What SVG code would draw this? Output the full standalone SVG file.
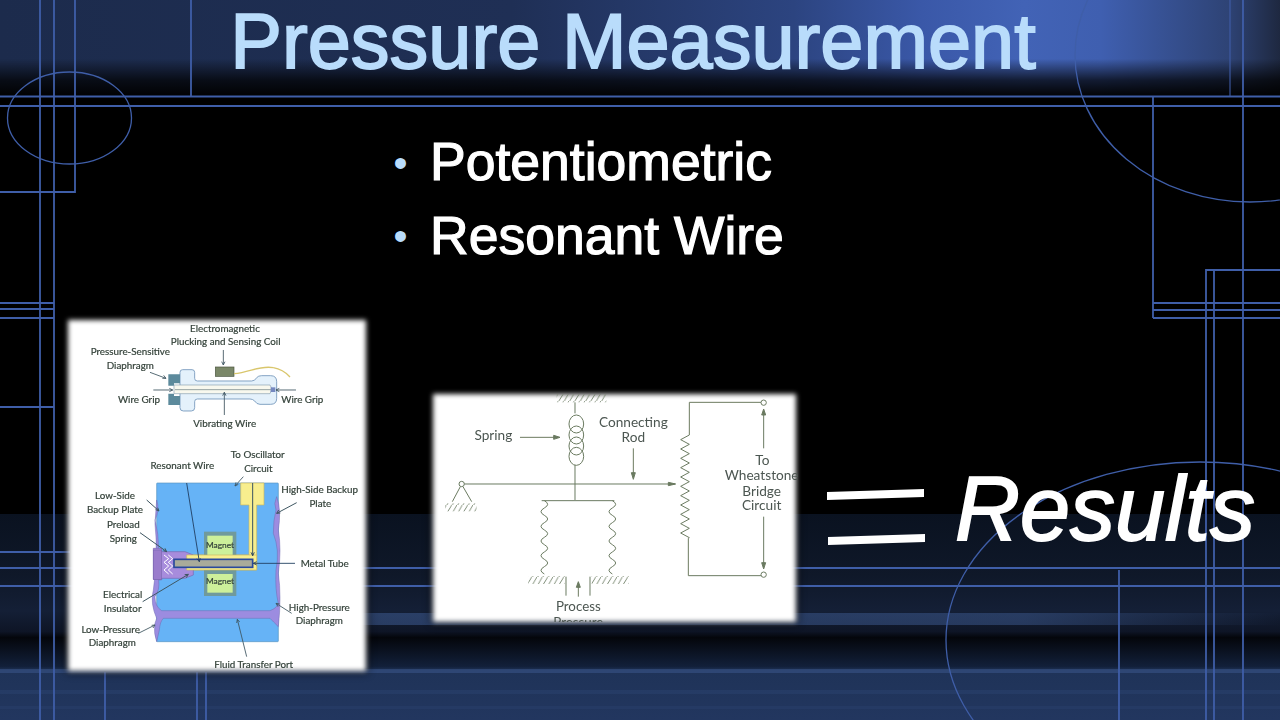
<svg xmlns="http://www.w3.org/2000/svg" width="1280" height="720" viewBox="0 0 1280 720">
<style>
.g{stroke:#3f5ea8;stroke-width:1.8;fill:none}
.thin{stroke:#3f5ea8;stroke-width:1.3;fill:none}
.sans{font-family:"Liberation Sans",Arial,sans-serif}
.l{font-family:Lato,"Noto Sans",sans-serif;fill:#34423a;text-anchor:middle;font-size:29.500px;stroke:#34423a;stroke-width:.6}
.k{fill:none;stroke:#3d5560;stroke-width:2.600}
.d{fill:none;stroke:#6a7a60;stroke-width:3}
.dt{font-family:Lato,"Noto Sans",sans-serif;fill:#4c5651;text-anchor:middle;font-size:41px}
</style>
<defs>
<linearGradient id="top" x1="0" x2="1" y1="0" y2="0">
<stop offset="0" stop-color="#1c2b4c"/><stop offset=".4" stop-color="#1f2f55"/><stop offset=".62" stop-color="#2c4480"/><stop offset=".72" stop-color="#3a58a8"/><stop offset=".8" stop-color="#4263b6"/><stop offset=".86" stop-color="#3f5fb0"/><stop offset=".96" stop-color="#2e4375"/><stop offset="1" stop-color="#1e2840"/>
</linearGradient>
<linearGradient id="fade" x1="0" x2="0" y1="0" y2="1">
<stop offset="0" stop-color="#000" stop-opacity="0"/><stop offset=".6" stop-color="#000" stop-opacity="0"/><stop offset=".82" stop-color="#000" stop-opacity=".72"/><stop offset="1" stop-color="#000" stop-opacity="1"/>
</linearGradient>
<linearGradient id="bot" x1="0" x2="0" y1="0" y2="1">
<stop offset="0" stop-color="#0a1220"/><stop offset=".3" stop-color="#0f1829"/><stop offset=".47" stop-color="#141f36"/><stop offset=".57" stop-color="#0e1526"/><stop offset=".6" stop-color="#04060b"/><stop offset=".74" stop-color="#12203a"/><stop offset=".76" stop-color="#1f3358"/><stop offset="1" stop-color="#22365f"/>
</linearGradient>
<linearGradient id="st" x1="0" x2="1" y1="0" y2="0">
<stop offset="0" stop-color="#3d5a90" stop-opacity="0"/><stop offset=".1" stop-color="#3d5a90" stop-opacity="0"/><stop offset=".3" stop-color="#3d5a90" stop-opacity=".55"/><stop offset=".8" stop-color="#3d5a90" stop-opacity=".5"/><stop offset="1" stop-color="#3d5a90" stop-opacity="0"/>
</linearGradient>
<pattern id="hatch" width="16" height="24" patternUnits="userSpaceOnUse"><path d="M16 0L2 24" stroke="#6a7a60" stroke-width="2.600" fill="none"/></pattern>
<filter id="b1" x="-10%" y="-10%" width="120%" height="120%"><feGaussianBlur stdDeviation="2.6"/></filter>
<filter id="b2" x="-10%" y="-10%" width="120%" height="120%"><feGaussianBlur stdDeviation="4"/></filter>
<filter id="soft" x="-5%" y="-5%" width="110%" height="110%"><feGaussianBlur stdDeviation="1.700"/></filter>
<clipPath id="clipR"><rect x="0" y="0" width="1140" height="711"/></clipPath>
</defs>

<g id="background">
<rect width="1280" height="720" fill="#000"/>
<rect width="1280" height="98" fill="url(#top)"/>
<rect width="1280" height="98" fill="url(#fade)"/>
<rect y="514" width="1280" height="206" fill="url(#bot)"/>
<rect y="613" width="1280" height="12" fill="url(#st)"/>
<rect y="669" width="1280" height="4" fill="#3d5a90" opacity=".5"/>
<rect y="690" width="1280" height="4" fill="#3d5a90" opacity=".2"/>
<rect y="706" width="1280" height="3" fill="#3d5a90" opacity=".15"/>
<g class="g">
<path d="M0 96.500H1280M0 106H1280"/>
<path d="M40 0V720M54 0V720M75 0V192H0M191 0V96"/>
<path d="M1153 96V318M1243 0V720"/>
<path d="M1230 0V96" opacity=".6"/>
<path d="M1153 303H1280M1153 310H1280M1153 318H1280"/>
<path d="M1280 270H1206V720M1214 270V720"/>
<path d="M0 568H1280M0 586H1280M0 552H70M1119 570V720"/>
<path d="M0 303H54M0 309H54M0 318H54M0 407H54"/>
<path d="M105 672V720M197 672V720M206 672V720"/>
</g>
<g class="thin">
<ellipse cx="69.500" cy="118" rx="62" ry="46"/>
<ellipse cx="1250" cy="55" rx="175" ry="147"/>
<ellipse cx="1200" cy="640" rx="254" ry="178"/>
</g>
</g>

<g id="title"><text x="633" y="67.500" text-anchor="middle" font-size="77.500" class="sans" fill="#b9dcfb" stroke="#b9dcfb" stroke-width="1.800">Pressure Measurement</text></g>

<g id="bullets" class="sans" font-size="53.500" fill="#fff" stroke="#fff" stroke-width="1.200">
<text x="393.500" y="177" font-size="40" fill="#b9dcfb" stroke="none">•</text>
<text x="430" y="180">Potentiometric</text>
<text x="393.500" y="250" font-size="40" fill="#b9dcfb" stroke="none">•</text>
<text x="430" y="254">Resonant Wire</text>
</g>

<g id="image-left">
<rect x="66" y="318" width="302" height="355" fill="#000" opacity=".6" filter="url(#b2)"/>
<rect x="68" y="320" width="298" height="351" fill="#fff" filter="url(#b1)"/>
<g transform="translate(60 315) scale(.33333)" filter="url(#soft)">
<path d="M360 172Q360 164 368 164H396Q404 164 404 172V190Q404 198 412 198H575Q585 198 590 188Q595 182 605 182H632Q650 182 650 200V250Q650 268 632 268H600Q590 268 584 258Q578 252 570 252H412Q404 252 404 260V278Q404 288 394 288H370Q360 288 360 278Z" fill="#e4f1fb" stroke="#6f93b8" stroke-width="2.500"/>
<path d="M325 178H360V205H342V212H325ZM325 236H342V243H360V270H325Z" fill="#5c8a9c"/>
<path d="M342 210H630L636 222L630 236H342Z" fill="#f8f8ee" stroke="#8aa0b0" stroke-width="2"/>
<path d="M345 224H640" stroke="#7f8f90" stroke-width="2.500"/>
<rect x="632" y="217" width="14" height="14" fill="#7488c0"/>
<rect x="466" y="156" width="56" height="28" fill="#7a8767" stroke="#4a5540" stroke-width="2"/>
<path d="M522 176C570 172 600 150 640 158C665 162 680 175 690 186" fill="none" stroke="#d9c66c" stroke-width="4"/>
<g class="k">
<path d="M490 105V150M485 140L490 150L495 140"/><path d="M270 172L318 190M307 190L318 190L311 181"/>
<path d="M280 225H338M328 220L338 225L328 230"/><path d="M708 225H648M658 220L648 225L658 230"/>
<path d="M493 300V232M488 242L493 232L498 242"/>
</g>
<g class="l">
<text x="495" y="50">Electromagnetic</text>
<text x="497" y="90">Plucking and Sensing Coil</text>
<text x="211" y="120">Pressure-Sensitive</text>
<text x="211" y="162">Diaphragm</text>
<text x="237" y="263">Wire Grip</text>
<text x="727" y="265">Wire Grip</text>
<text x="494" y="336">Vibrating Wire</text>
<text x="367" y="462">Resonant Wire</text>
<text x="593" y="430">To Oscillator</text>
<text x="595" y="472">Circuit</text>
</g>
</g>
<g transform="translate(60 490) scale(.33333)" filter="url(#soft)">
<rect x="290" y="-21" width="365" height="476" rx="2" fill="#66b3f6" stroke="#5b95c0" stroke-width="2"/>
<path d="M542 -21H612V45H590V240H380V195H567V45H542Z" fill="#f8ee8e" stroke="#c9b860" stroke-width="2"/>
<rect x="432" y="125" width="97" height="193" fill="#6f9a9c"/>
<rect x="442" y="137" width="76" height="58" fill="#cdf09a"/>
<rect x="442" y="252" width="76" height="56" fill="#cdf09a"/>
<path d="M290 30Q300 60 285 90Q296 130 296 180H305V270H296Q300 300 285 320Q285 350 305 362H630Q650 355 655 340Q645 300 648 240Q660 180 640 130Q640 90 648 60Q640 40 650 20Q665 60 655 120Q665 180 655 250Q665 320 655 410Q640 395 630 385H310Q300 395 298 420L290 455Q280 430 285 400L290 385Q270 340 280 300Q295 200 285 100Z" fill="#9c8ce0" stroke="#6f6bb0" stroke-width="1.500"/>
<path d="M280 175H305V185H375L400 195V255L375 265H305V268H280Z" fill="#a78cdc" stroke="#7a66b0" stroke-width="2"/>
<rect x="280" y="180" width="24" height="88" fill="#9a7ccc" stroke="#7a66b0" stroke-width="2"/>
<path d="M380 195H590V240H380Z" fill="#f8ee8e" stroke="#c9b860" stroke-width="2"/>
<rect x="342" y="208" width="236" height="24" fill="#a9ab9a" stroke="#2a4a9c" stroke-width="5"/>
<path d="M312 195L326 206L312 217L326 228L312 240L326 252M325 195L338 206L325 217L338 228L325 240L338 252" fill="none" stroke="#fff" stroke-width="3"/>
<g class="k">
<path d="M260 30L297 63M287 59L297 63L293 53" stroke-width="3"/>
<path d="M710 38L650 70M661 69L650 70L656 60" stroke-width="3"/>
<path d="M240 128L320 185M310 182L320 185L315 175" stroke-width="3"/>
<path d="M248 335L385 253M374 254L385 253L379 263" stroke-width="3"/>
<path d="M235 430L285 405M275 406L285 405L279 414"/>
<path d="M695 370L648 340M659 342L648 340L654 350"/>
<path d="M560 500L532 388M530 399L532 388L539 396"/>
<path d="M705 220H580M590 215L580 220L590 225" stroke="#1e3a5c"/>
<path d="M380 -21L418 215M411 206L418 215L421 205" stroke="#1e3a5c"/>
<path d="M578 -21V197M573 187L578 197L583 187" stroke="#1e3a5c"/>
<path d="M550 -40L525 -12M535 -17L525 -12L528 -23"/>
</g>
<g class="l">
<text x="165" y="27">Low-Side</text><text x="165" y="68">Backup Plate</text>
<text x="190" y="115">Preload</text><text x="190" y="157">Spring</text>
<text x="188" y="325">Electrical</text><text x="188" y="367">Insulator</text>
<text x="152" y="428">Low-Pressure</text><text x="157" y="468">Diaphragm</text>
<text x="581" y="535">Fluid Transfer Port</text>
<text x="778" y="362">High-Pressure</text><text x="778" y="402">Diaphragm</text>
<text x="794" y="232">Metal Tube</text>
<text x="779" y="10">High-Side Backup</text><text x="781" y="50">Plate</text>
<text x="480" y="175" font-size="25">Magnet</text><text x="480" y="283" font-size="25">Magnet</text>
</g>
</g>
</g>

<g id="image-right">
<rect x="431" y="392" width="367" height="232" fill="#000" opacity=".6" filter="url(#b2)"/>
<rect x="433" y="394" width="363" height="228" fill="#fff" filter="url(#b1)"/>
<g clip-path="url(#clipR)" transform="translate(425 385) scale(.33333)"><g filter="url(#soft)">
<rect x="395" y="28" width="150" height="24" fill="url(#hatch)"/>
<rect x="60" y="355" width="95" height="24" fill="url(#hatch)"/>
<rect x="310" y="573" width="110" height="24" fill="url(#hatch)"/>
<rect x="500" y="573" width="112" height="24" fill="url(#hatch)"/>
<g class="d">
<path d="M450 52V85M450 240V345"/>
<ellipse cx="454" cy="117" rx="22" ry="27"/><ellipse cx="454" cy="150" rx="22" ry="27"/><ellipse cx="454" cy="183" rx="22" ry="27"/><ellipse cx="454" cy="214" rx="22" ry="27"/>
<circle cx="110" cy="297" r="8"/>
<path d="M118 297H750"/><path d="M730 292L752 297L730 302Z" fill="#6a7a60"/>
<path d="M106 305L82 350M114 305L140 350"/>
<path d="M350 347H568"/>
<path d="M358 347Q378 358 358 369T358 391T358 413T358 435T358 457T358 479T358 501T358 523T358 545T358 567"/>
<path d="M562 347Q582 358 562 369T562 391T562 413T562 435T562 457T562 479T562 501T562 523T562 545T562 567"/>
<path d="M423 575V632M495 575V632"/>
<path d="M460 635V605"/><path d="M454 607L460 590L466 607Z" fill="#6a7a60"/>
<path d="M793 52V150l-26 14 26 14-26 14 26 14-26 14 26 14-26 14 26 14-26 14 26 14-26 14 26 14-26 14 26 14-26 14 26 14-26 14 26 14-26 14 26 14-26 14 26 14L790 460V572H1008"/>
<path d="M793 52H1008"/>
<circle cx="1016" cy="53" r="8"/><circle cx="1016" cy="569" r="8"/>
<path d="M1016 190V78"/><path d="M1010 90L1016 72L1022 90Z" fill="#6a7a60"/>
<path d="M1016 395V535"/><path d="M1010 533L1016 552L1022 533Z" fill="#6a7a60"/>
<path d="M285 157H390"/><path d="M386 151L405 157L386 163Z" fill="#6a7a60"/>
<path d="M625 190V265"/><path d="M619 263L625 283L631 263Z" fill="#6a7a60"/>
</g>
<g class="dt">
<text x="205" y="165">Spring</text>
<text x="625" y="125">Connecting</text><text x="625" y="170">Rod</text>
<text x="1012" y="240">To</text><text x="1010" y="285">Wheatstone</text><text x="1010" y="332">Bridge</text><text x="1010" y="375">Circuit</text>
<text x="460" y="678" font-size="40">Process</text><text x="460" y="726" font-size="40">Pressure</text>
</g>
</g></g>
</g>

<g id="results">
<polygon points="827,492 924,489 924,497 827,500" fill="#fff"/>
<polygon points="828,537 925,534 925,542 828,545" fill="#fff"/>
<text x="955" y="540" font-size="90" font-style="italic" class="sans" fill="#fff" stroke="#fff" stroke-width="1.800">Results</text>
</g>
</svg>
